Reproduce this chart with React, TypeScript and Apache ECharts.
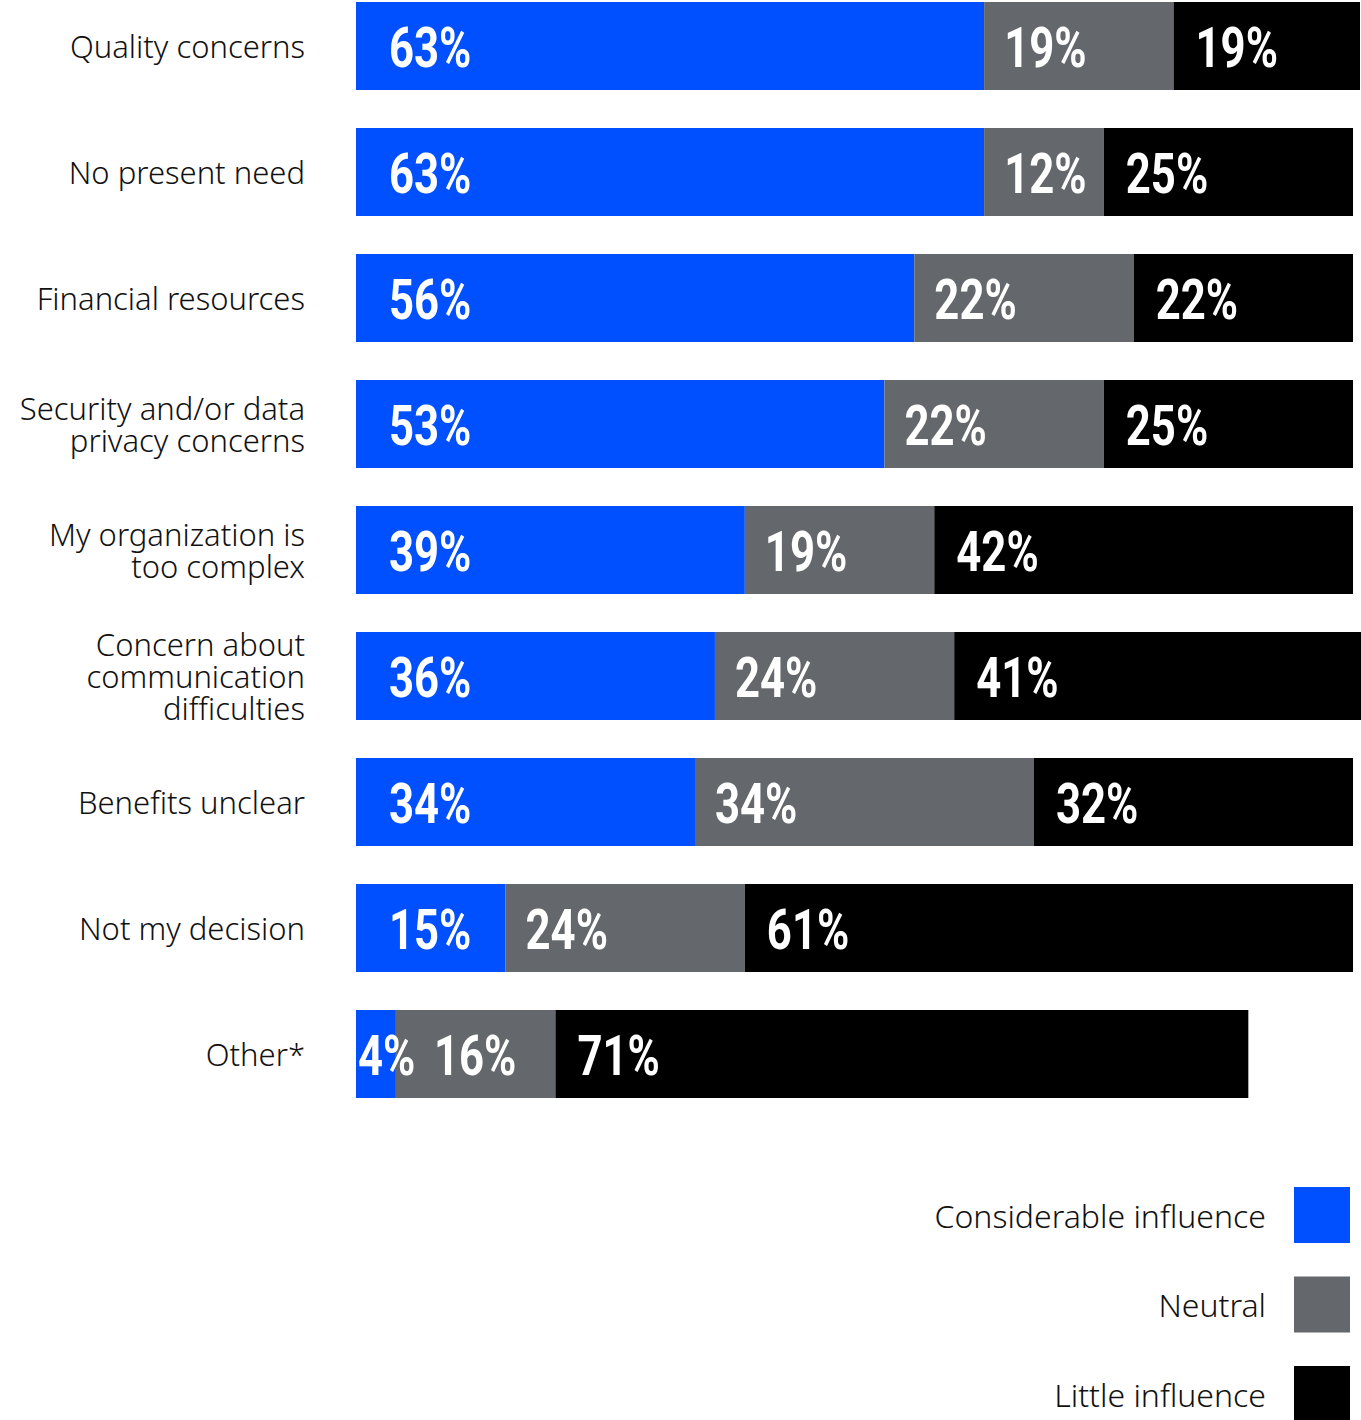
import React, { useEffect, useRef } from "react";
import * as echarts from "echarts";

const categories = [
  "Quality concerns",
  "No present need",
  "Financial resources",
  "Security and/or data\nprivacy concerns",
  "My organization is\ntoo complex",
  "Concern about\ncommunication\ndifficulties",
  "Benefits unclear",
  "Not my decision",
  "Other*",
];

const seriesNames = ["Considerable influence", "Neutral", "Little influence"];

// bar lengths (percent)
const considerable = [63, 63, 56, 53, 39, 36, 34, 15, 4];
const neutral = [19, 12, 22, 22, 19, 24, 34, 24, 16];
const little = [18.7, 25, 22, 25, 42, 40.8, 32, 61, 69.5];

// printed labels
const considerableLabels = ["63%", "63%", "56%", "53%", "39%", "36%", "34%", "15%", "4%"];
const neutralLabels = ["19%", "12%", "22%", "22%", "19%", "24%", "34%", "24%", "16%"];
const littleLabels = ["19%", "25%", "22%", "25%", "42%", "41%", "32%", "61%", "71%"];

const colors = ["#0050FF", "#64676B", "#000000"];

const labelFont = 'Roboto, "DejaVu Sans", sans-serif';
const textFont = '"Noto Sans", "Open Sans", sans-serif';

export default function App() {
  const ref = useRef<HTMLDivElement>(null);
  useEffect(() => {
    if (!ref.current) return;
    const chart = echarts.init(ref.current, null, { renderer: "svg" });
    const values = [considerable, neutral, little];
    const labels = [considerableLabels, neutralLabels, littleLabels];
    const barSeries = seriesNames.map((name, si) => ({
      name,
      type: "bar",
      stack: "total",
      barWidth: 88,
      itemStyle: { color: colors[si] },
      data: values[si],
    }));
    const labelSeries = {
      type: "custom",
      name: "labels",
      coordinateSystem: "cartesian2d",
      silent: true,
      z: 10,
      encode: { x: 0, y: 1 },
      data: categories.map((_, i) => [0, i]),
      renderItem: (params: any, api: any) => {
        const i = params.dataIndex;
        let acc = 0;
        const children = values.map((arr, s) => {
          const v = arr[i];
          const start = api.coord([acc, i]);
          acc += v;
          const prevTiny = s > 0 && values[s - 1][i] < 6;
          const pad = s === 0 ? (v < 6 ? 2 : 33) : prevTiny ? 38 : s === 1 ? 20 : 22;
          return {
            type: "text",
            x: start[0] + pad,
            y: start[1] + 1,
            scaleX: 0.78,
            style: {
              text: labels[s][i],
              fill: "#ffffff",
              fontFamily: labelFont,
              fontWeight: "bold",
              fontSize: 56,
              align: "left",
              verticalAlign: "middle",
            },
          };
        });
        return { type: "group", children };
      },
    };
    chart.setOption({
      animation: false,
      grid: {
        left: 356,
        top: 0,
        width: 1007,
        height: 1134,
        containLabel: false,
        outerBoundsMode: "none",
      },
      xAxis: {
        type: "value",
        min: 0,
        max: 101,
        show: false,
      },
      yAxis: {
        type: "category",
        inverse: true,
        data: categories,
        axisLine: { show: false },
        axisTick: { show: false },
        splitLine: { show: false },
        axisLabel: {
          margin: 51,
          fontSize: 31,
          lineHeight: 32,
          color: "#111111",
          fontFamily: textFont,
          fontWeight: 300,
          align: "right",
        },
      },
      legend: {
        orient: "vertical",
        right: 11,
        top: 1204,
        height: 260,
        align: "right",
        itemWidth: 56,
        itemHeight: 56,
        itemGap: 33.5,
        padding: 0,
        icon: "rect",
        selectedMode: false,
        data: seriesNames,
        textStyle: {
          fontSize: 32,
          color: "#111111",
          fontFamily: textFont,
          fontWeight: 300,
          padding: [0, 23, 0, 0],
        },
      },
      series: [...barSeries, labelSeries],
    });
    return () => chart.dispose();
  }, []);
  return (
    <div
      ref={ref}
      style={{ position: "absolute", left: 0, top: -17, width: 1361, height: 1480 }}
    />
  );
}
